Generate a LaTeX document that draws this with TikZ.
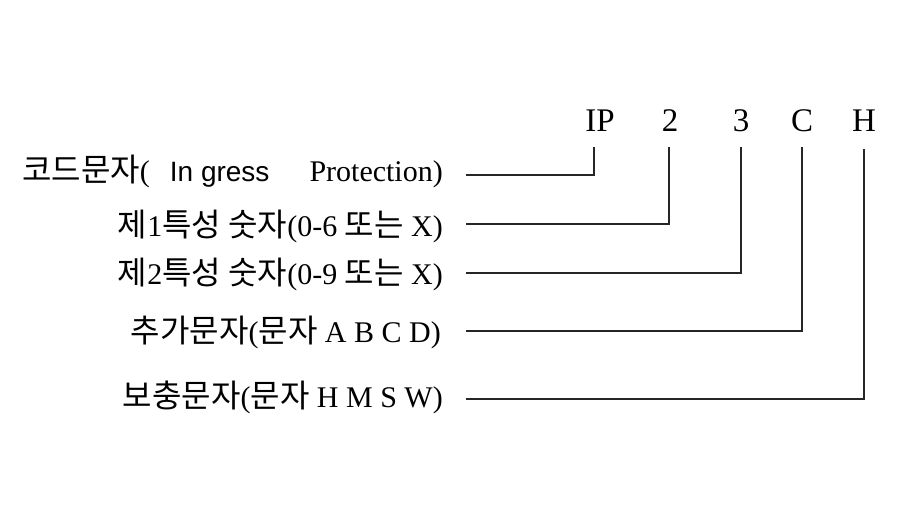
\documentclass[tikz,border=0pt]{standalone}
\usepackage{fontspec}
\setmainfont{Liberation Serif}
\newfontfamily\krf{Noto Sans CJK KR}
\newcommand\kr{\krf\fontsize{32}{38}\selectfont}
\newfontfamily\arl{Liberation Sans}
\begin{document}
\begin{tikzpicture}[x=1pt,y=1pt,
  lbl/.style={anchor=base east,inner sep=0pt,font=\fontsize{30}{36}\selectfont},
  top/.style={anchor=base,inner sep=0pt,font=\fontsize{33}{40}\selectfont},
  conn/.style={line width=1.4pt,draw=black!85}]
\useasboundingbox (0,0) rectangle (904,505);
% top code letters
\node[top] (IP) at (600,373) {IP};
\node[top] (n2) at (670,373) {2};
\node[top] (n3) at (741,373) {3};
\node[top] (nC) at (802,373) {C};
\node[top] (nH) at (864,373) {H};
% labels
\node[lbl] (l1) at (443,323) {{\kr 코드문자}(\hspace{20pt}{\arl\fontsize{28}{34}\selectfont In gress}\hspace{40pt}Protection)};
\node[lbl] (l2) at (443,268) {{\kr 제}1{\kr 특성 숫자}(0-6 {\kr 또는} X)};
\node[lbl] (l3) at (443,220) {{\kr 제}2{\kr 특성 숫자}(0-9 {\kr 또는} X)};
\node[lbl] (l4) at (441,162) {{\kr 추가문자}({\kr 문자} A B C D)};
\node[lbl] (l5) at (443,97) {{\kr 보충문자}({\kr 문자} H M S W)};
% connector ends
\coordinate (s1) at (466,330);
\coordinate (s2) at (466,281);
\coordinate (s3) at (466,232);
\coordinate (s4) at (466,174);
\coordinate (s5) at (466,106);
\coordinate (t1) at (594,358);
\coordinate (t2) at (669,358);
\coordinate (t3) at (741,358);
\coordinate (t4) at (802,358);
\coordinate (t5) at (864,356);
\draw[conn] (s1) -| (t1);
\draw[conn] (s2) -| (t2);
\draw[conn] (s3) -| (t3);
\draw[conn] (s4) -| (t4);
\draw[conn] (s5) -| (t5);
\end{tikzpicture}
\end{document}
